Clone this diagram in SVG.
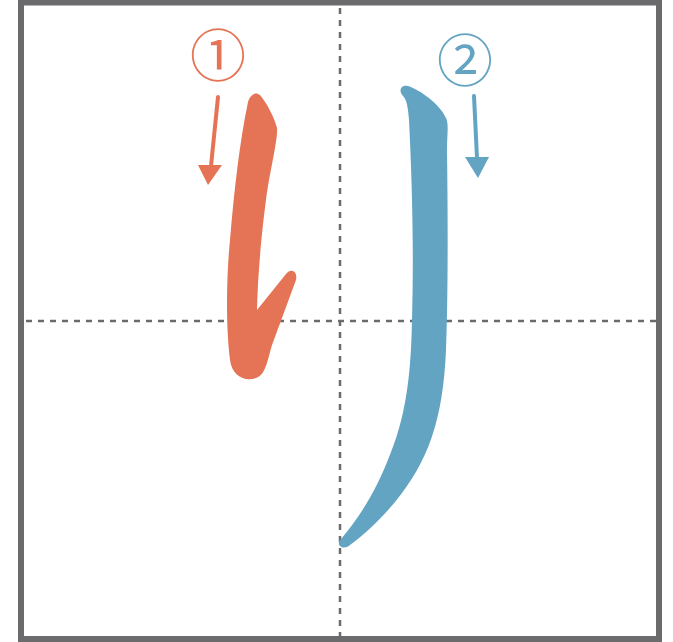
<svg xmlns="http://www.w3.org/2000/svg" width="673" height="642" viewBox="0 0 673 642">
<style>
.frame{fill:none;stroke:#6b6b6d;stroke-width:6}
.guide{fill:none;stroke:#6b6b6d;stroke-width:2.5;stroke-dasharray:6 6}
.num{font-family:"Noto Sans CJK JP","DejaVu Sans",sans-serif;font-size:56px;text-anchor:middle}
.o{fill:#e57456}
.b{fill:#63a4c3}
.ol{stroke:#e57456;stroke-width:4;stroke-linecap:round;fill:none}
.bl{stroke:#63a4c3;stroke-width:4;stroke-linecap:round;fill:none}
</style>
<rect width="673" height="642" fill="#ffffff"/>
<g id="grid">
<rect class="frame" x="21" y="2.5" width="638" height="636.5"/>
<line class="guide" x1="26" y1="321" x2="656" y2="321"/>
<line class="guide" x1="340" y1="8" x2="340" y2="636"/>
</g>
<g id="stroke1">
<path class="o" d="M248,102 C250,95 255,91 260,95 C266,102 274,116 277,128 C278,140 270,170 266,200 C262,230 258,270 257,310 L286,274 C290,268 298,270 296,280 L272,345 C268,358 266,375 256,378 C245,382 232,376 230,360 C226,330 226,280 230,240 C234,190 240,140 248,102 Z"/>
</g>
<g id="stroke2">
<path class="b" d="M403,96 C398,91 401,84 408,86 C420,90 440,104 446,118 C449,124 447,135 447,150 C448,220 448,300 446,350 C443,420 428,462 395,502 C380,520 365,534 350,545 C343,551 335,545 341,539 C359,518 377,490 391,452 C407,412 411,370 412,320 C414,250 412,180 409,120 C408,108 407,100 403,96 Z"/>
</g>
<g id="label1">
<text class="num o" x="218" y="76">①</text>
</g>
<g id="label2">
<text class="num b" x="465" y="81">②</text>
</g>
<g id="connectors">
<line class="ol" x1="218" y1="97" x2="211" y2="166"/>
<polygon class="o" points="198,165 222,165 208,185"/>
<line class="bl" x1="474" y1="96" x2="477" y2="158"/>
<polygon class="b" points="465,157 489,157 478,178"/>
</g>
</svg>
